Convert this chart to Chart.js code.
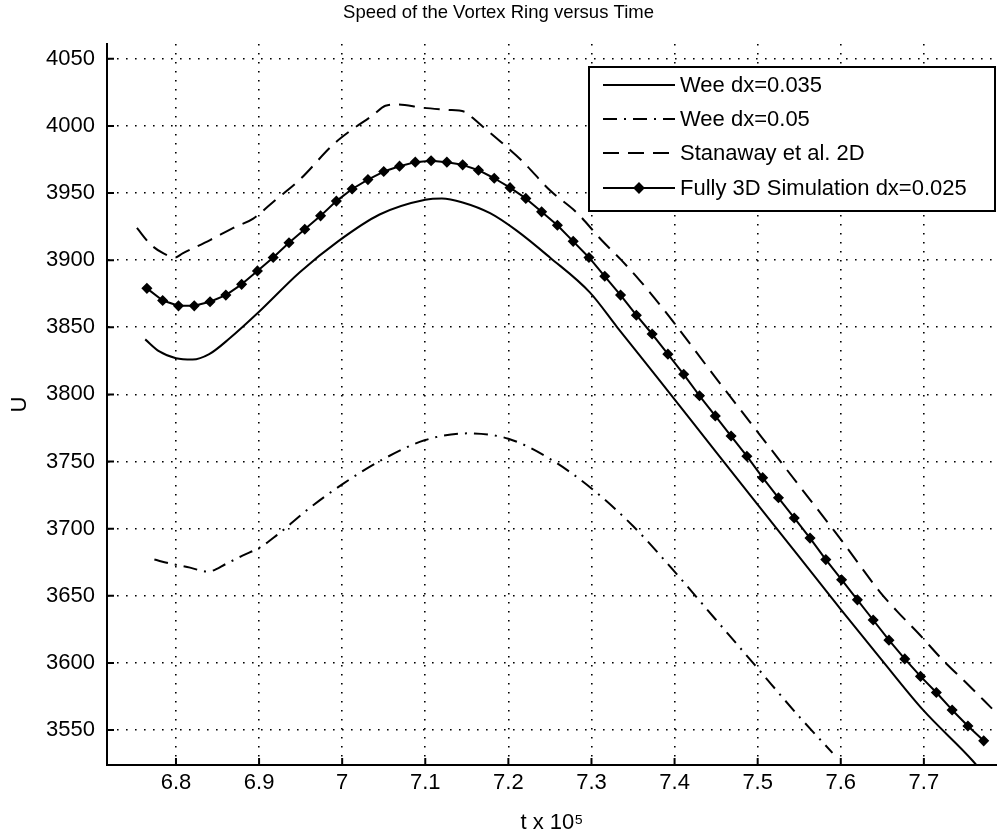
<!DOCTYPE html>
<html>
<head>
<meta charset="utf-8">
<title>Speed of the Vortex Ring versus Time</title>
<script src="https://cdn.jsdelivr.net/npm/chart.js@4.4.1/dist/chart.umd.min.js"></script>
<style>
  html, body { margin: 0; padding: 0; background: #fff; }
  canvas { display: block; }
</style>
</head>
<body>
<canvas id="speedChart" width="997" height="836"></canvas>
<script>
// axis ticks
const tTicks = [6.8, 6.9, 7.0, 7.1, 7.2, 7.3, 7.4, 7.5, 7.6, 7.7]
const uTicks = [3550, 3600, 3650, 3700, 3750, 3800, 3850, 3900, 3950, 4000, 4050]

// Wee dx=0.035
const wee035T = [6.763, 6.78, 6.80, 6.82, 6.84, 6.865, 6.899, 6.949, 6.995, 7.045, 7.10, 7.12, 7.145, 7.178, 7.21, 7.25, 7.298, 7.331, 7.38, 7.45, 7.50, 7.55, 7.60, 7.647, 7.699, 7.759, 7.775]
const wee035U = [3841, 3832, 3827, 3826, 3830, 3842, 3861, 3891, 3914, 3934, 3945, 3946, 3943, 3935, 3922, 3902, 3876, 3850, 3812, 3757, 3718, 3679, 3640, 3604, 3565, 3527, 3515]

// Wee dx=0.05
const wee05T = [6.774, 6.793, 6.817, 6.838, 6.861, 6.88, 6.901, 6.921, 6.96, 7.0, 7.05, 7.1, 7.15, 7.2, 7.25, 7.3, 7.35, 7.4, 7.45, 7.5, 7.55, 7.59]
const wee05U = [3677, 3674, 3671, 3668, 3674, 3680, 3686, 3695, 3715, 3733, 3752, 3766, 3771, 3767, 3752, 3730, 3702, 3668, 3632, 3596, 3560, 3533]

// Stanaway et al. 2D
const stanT = [6.753, 6.769, 6.785, 6.799, 6.808, 6.841, 6.869, 6.893, 6.92, 6.949, 6.989, 7.009, 7.037, 7.052, 7.066, 7.097, 7.126, 7.15, 7.157, 7.193, 7.218, 7.25, 7.283, 7.312, 7.336, 7.358, 7.386, 7.45, 7.5, 7.55, 7.6, 7.647, 7.667, 7.695, 7.723, 7.753, 7.782]
const stanU = [3924, 3912, 3905, 3902, 3905, 3915, 3924, 3931, 3945, 3960, 3986, 3996, 4008, 4015, 4016, 4013.5, 4012, 4010, 4006, 3987, 3973, 3952, 3935, 3915, 3900, 3885, 3864, 3812, 3772, 3732, 3692, 3653, 3639, 3621, 3602, 3584, 3566]

// Fully 3D simulation dx=0.025
const sim3dT = [6.765, 6.784, 6.803, 6.822, 6.841, 6.860, 6.879, 6.898, 6.917, 6.936, 6.955, 6.974, 6.993, 7.012, 7.031, 7.050, 7.069, 7.088, 7.107, 7.126, 7.145, 7.164, 7.183, 7.202, 7.221, 7.240, 7.259, 7.278, 7.297, 7.316, 7.335, 7.354, 7.373, 7.392, 7.411, 7.430, 7.449, 7.468, 7.487, 7.506, 7.525, 7.544, 7.563, 7.582, 7.601, 7.620, 7.639, 7.658, 7.677, 7.696, 7.715, 7.734, 7.753, 7.772]
const sim3dU = [3879, 3870, 3866, 3866, 3869, 3874, 3882, 3892, 3902, 3913, 3923, 3933, 3944, 3953, 3960, 3966, 3970, 3973, 3974, 3973, 3971, 3967, 3961, 3954, 3946, 3936, 3926, 3914, 3902, 3888, 3874, 3859, 3845, 3830, 3815, 3799, 3784, 3769, 3754, 3738, 3723, 3708, 3693, 3677, 3662, 3647, 3632, 3617, 3603, 3590, 3578, 3565, 3553, 3542]

const FONT = '"Liberation Sans", Arial, sans-serif'
const toPoints = (xs, ys) => xs.map((x, i) => ({ x, y: ys[i] }))

const baseLine = {
  borderColor: '#000',
  backgroundColor: '#000',
  borderWidth: 2,
  pointRadius: 0,
  fill: false,
  borderJoinStyle: 'round'
}

const datasets = [
  { ...baseLine, label: 'Wee dx=0.035', data: toPoints(wee035T, wee035U), cubicInterpolationMode: 'monotone' },
  { ...baseLine, label: 'Wee dx=0.05', data: toPoints(wee05T, wee05U), borderDash: [14, 7, 2, 7], cubicInterpolationMode: 'monotone' },
  { ...baseLine, label: 'Stanaway et al. 2D', data: toPoints(stanT, stanU), borderDash: [16, 9], cubicInterpolationMode: 'monotone' },
  {
    ...baseLine,
    label: 'Fully 3D Simulation dx=0.025',
    data: toPoints(sim3dT, sim3dU),
    tension: 0,
    pointStyle: 'rectRot',
    pointRadius: 4.5,
    pointBorderWidth: 1.5,
    pointBackgroundColor: '#000',
    pointBorderColor: '#000'
  }
]

// small tick marks pointing into the plot, like the original figure
const inwardTicks = {
  id: 'inwardTicks',
  afterDraw (chart) {
    const { ctx, chartArea, scales: { x, y } } = chart
    ctx.save()
    ctx.strokeStyle = '#000'
    ctx.lineWidth = 2
    ctx.beginPath()
    x.ticks.forEach(t => {
      const px = x.getPixelForValue(t.value)
      ctx.moveTo(px, chartArea.bottom)
      ctx.lineTo(px, chartArea.bottom - 7)
    })
    y.ticks.forEach(t => {
      const py = y.getPixelForValue(t.value)
      ctx.moveTo(chartArea.left, py)
      ctx.lineTo(chartArea.left + 7, py)
    })
    ctx.stroke()
    ctx.restore()
  }
}

// boxed legend in the upper right corner
const boxLegend = {
  id: 'boxLegend',
  afterDraw (chart) {
    const { ctx } = chart
    const box = { left: 589, top: 67, right: 995, bottom: 211 }
    const rows = [85, 119, 153, 188]
    ctx.save()
    ctx.fillStyle = '#fff'
    ctx.fillRect(box.left, box.top, box.right - box.left, box.bottom - box.top)
    ctx.strokeStyle = '#000'
    ctx.lineWidth = 2
    ctx.strokeRect(box.left, box.top, box.right - box.left, box.bottom - box.top)
    ctx.font = '22px ' + FONT
    ctx.textBaseline = 'middle'
    ctx.fillStyle = '#000'
    chart.data.datasets.forEach((ds, i) => {
      const y = rows[i]
      ctx.setLineDash(ds.borderDash || [])
      ctx.lineWidth = 2
      ctx.beginPath()
      ctx.moveTo(603, y)
      ctx.lineTo(675, y)
      ctx.stroke()
      ctx.setLineDash([])
      if (ds.pointStyle === 'rectRot') {
        const r = ds.pointRadius
        ctx.beginPath()
        ctx.moveTo(639 - r, y)
        ctx.lineTo(639, y - r)
        ctx.lineTo(639 + r, y)
        ctx.lineTo(639, y + r)
        ctx.closePath()
        ctx.fill()
        ctx.stroke()
      }
      ctx.fillText(ds.label, 680, y + 1)
    })
    ctx.restore()
  }
}

const tickFont = { family: FONT, size: 22 }

new Chart(document.getElementById('speedChart'), { // eslint-disable-line
  type: 'line',
  data: { datasets },
  plugins: [inwardTicks, boxLegend],
  options: {
    responsive: false,
    animation: false,
    events: [],
    layout: { padding: 0, autoPadding: false },
    plugins: {
      legend: { display: false },
      tooltip: { enabled: false },
      title: {
        display: true,
        text: 'Speed of the Vortex Ring versus Time',
        color: '#000',
        font: { family: FONT, size: 18.5, weight: 'normal' },
        padding: { top: 2, bottom: 19.8 }
      }
    },
    scales: {
      x: {
        type: 'linear',
        min: 6.717,
        max: 7.788,
        afterBuildTicks: scale => { scale.ticks = tTicks.map(value => ({ value })) },
        afterFit: scale => {
          scale.height = 71
          scale.paddingLeft = 0
          scale.paddingRight = 0
        },
        grid: { color: '#000', lineWidth: 1.6, drawTicks: false },
        border: { color: '#000', width: 2, dash: [1.6, 7.4] },
        ticks: {
          color: '#000',
          font: tickFont,
          padding: 5,
          maxRotation: 0,
          callback: v => String(Number(v.toFixed(1)))
        },
        title: {
          display: true,
          text: 't x 10\u2075',
          color: '#000',
          font: tickFont,
          padding: { top: 0, bottom: 0 }
        }
      },
      y: {
        type: 'linear',
        min: 3524,
        max: 4061,
        afterBuildTicks: scale => { scale.ticks = uTicks.map(value => ({ value })) },
        afterFit: scale => { scale.width = 107 },
        grid: { color: '#000', lineWidth: 1.6, drawTicks: false },
        border: { color: '#000', width: 2, dash: [1.6, 7.4] },
        ticks: {
          color: '#000',
          font: tickFont,
          padding: 12,
          callback: v => String(v)
        },
        title: {
          display: true,
          text: 'U',
          color: '#000',
          font: tickFont,
          padding: { top: 7, bottom: 0 }
        }
      }
    }
  }
})
</script>
</body>
</html>
